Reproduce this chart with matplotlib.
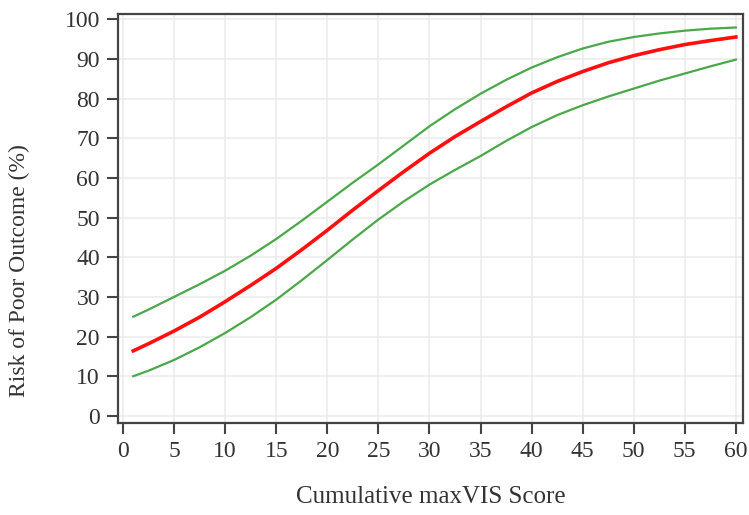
import matplotlib
matplotlib.use("Agg")
import matplotlib.pyplot as plt

x_vals = [1, 2.5, 5, 7.5, 10, 12.5, 15, 17.5, 20, 22.5, 25, 27.5, 30,
          32.5, 35, 37.5, 40, 42.5, 45, 47.5, 50, 52.5, 55, 57.5, 60]
risk = [16.4, 18.2, 21.4, 24.9, 28.8, 32.9, 37.2, 41.9, 46.8, 51.9, 56.8, 61.6, 66.2,
        70.4, 74.2, 77.9, 81.4, 84.3, 86.8, 89.0, 90.8, 92.3, 93.6, 94.6, 95.5]
upper_ci = [25.0, 26.8, 30.0, 33.2, 36.6, 40.4, 44.6, 49.2, 54.0, 58.8, 63.4, 68.2, 73.0,
            77.3, 81.2, 84.7, 87.8, 90.4, 92.6, 94.3, 95.5, 96.4, 97.1, 97.6, 97.9]
lower_ci = [10.0, 11.4, 14.1, 17.3, 20.9, 24.9, 29.3, 34.2, 39.3, 44.5, 49.5, 54.1, 58.3,
            62.0, 65.5, 69.3, 72.8, 75.8, 78.3, 80.5, 82.5, 84.5, 86.3, 88.1, 89.8]
x_ticks = list(range(0, 61, 5))
y_ticks = list(range(0, 101, 10))

plt.rcParams['font.family'] = ['Liberation Serif', 'DejaVu Serif']

fig = plt.figure(figsize=(7.49, 5.15), dpi=100)
ax = fig.add_axes([0.1575, 0.1786, 0.8345, 0.7942])

green = '#4aa84a'
ax.plot(x_vals, upper_ci, color=green, lw=1.6, zorder=3)
ax.plot(x_vals, lower_ci, color=green, lw=1.6, zorder=3)
ax.plot(x_vals, risk, color='#ff1010', lw=2.6, zorder=4)

ax.set_xlim(-0.5, 60.7)
ax.set_ylim(-1.8, 101.3)
ax.set_xticks(x_ticks)
ax.set_yticks(y_ticks)
ax.grid(True, color='#ececec', lw=1.2)
ax.set_axisbelow(True)

for s in ax.spines.values():
    s.set_color('#444444')
    s.set_linewidth(1.6)

ax.tick_params(axis='both', direction='out', length=8, width=1.5, color='#444444',
               labelsize=17, labelcolor='#333333', pad=5)

ax.set_xlabel('Cumulative maxVIS Score', fontsize=18, color='#333333', labelpad=17)
ax.set_ylabel('Risk of Poor Outcome (%)', fontsize=17, color='#333333')
ax.yaxis.set_label_coords(-0.14, 0.372)

fig.savefig('out.png', dpi=100)
